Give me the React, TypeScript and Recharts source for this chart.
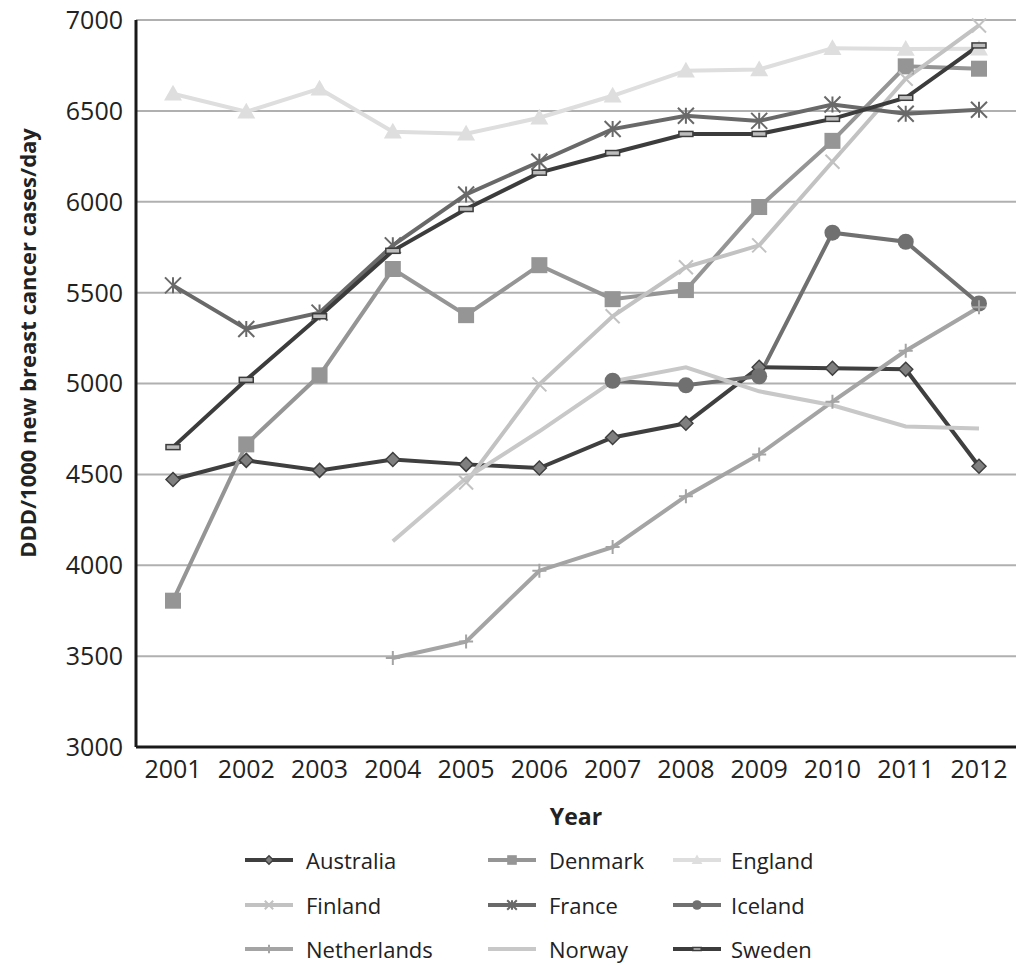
import React from "react";
import { LineChart, Line, XAxis, YAxis, CartesianGrid } from "recharts";

if (typeof document !== "undefined") {
  document.body.style.margin = "0";
  document.body.style.overflow = "hidden";
}

const years = ["2001", "2002", "2003", "2004", "2005", "2006", "2007", "2008", "2009", "2010", "2011", "2012"];
const yTicks = [3000, 3500, 4000, 4500, 5000, 5500, 6000, 6500, 7000];

const australia = [4472, 4577, 4522, 4582, 4555, 4535, 4703, 4781, 5089, 5084, 5078, 4545];
const denmark = [3805, 4665, 5045, 5630, 5376, 5651, 5464, 5514, 5971, 6335, 6745, 6732];
const england = [6594, 6495, 6622, 6385, 6374, 6462, 6583, 6721, 6728, 6845, 6840, 6842];
const finland = [null, null, null, null, 4455, 4995, 5370, 5640, 5760, 6220, 6677, 6970];
const france = [5540, 5300, 5390, 5760, 6040, 6220, 6400, 6473, 6445, 6535, 6484, 6506];
const iceland = [null, null, null, null, null, null, 5015, 4990, 5040, 5830, 5780, 5440];
const netherlands = [null, null, null, 3490, 3580, 3970, 4100, 4380, 4610, 4900, 5180, 5420];
const norway = [null, null, null, 4132, 4480, 4737, 5012, 5089, 4957, 4880, 4764, 4753];
const sweden = [4650, 5020, 5370, 5730, 5960, 6160, 6268, 6373, 6373, 6456, 6572, 6860];

const data = years.map((y, i) => ({
  year: y,
  Australia: australia[i],
  Denmark: denmark[i],
  England: england[i],
  Finland: finland[i],
  France: france[i],
  Iceland: iceland[i],
  Netherlands: netherlands[i],
  Norway: norway[i],
  Sweden: sweden[i],
}));

type Shape = "diamond" | "square" | "triangle" | "x" | "asterisk" | "circle" | "plus" | "dash" | "none";

const SERIES: { key: string; color: string; shape: Shape; fill?: string }[] = [
  { key: "Australia", color: "#3f3f3f", shape: "diamond", fill: "#7f7f7f" },
  { key: "Denmark", color: "#959595", shape: "square" },
  { key: "England", color: "#dedede", shape: "triangle" },
  { key: "Finland", color: "#c2c2c2", shape: "x" },
  { key: "France", color: "#696969", shape: "asterisk" },
  { key: "Iceland", color: "#707070", shape: "circle" },
  { key: "Netherlands", color: "#a4a4a4", shape: "plus" },
  { key: "Norway", color: "#c8c8c8", shape: "none" },
  { key: "Sweden", color: "#3c3c3c", shape: "dash", fill: "#bdbdbd" },
];

const FONT = "'Open Sans', sans-serif";

function Marker({ cx, cy, shape, color, fill, s = 1 }: any) {
  if (cx == null || cy == null) return null;
  switch (shape) {
    case "diamond": {
      const r = 7 * s;
      return <path d={`M${cx},${cy - r}L${cx + r},${cy}L${cx},${cy + r}L${cx - r},${cy}Z`} fill={fill} stroke={color} strokeWidth={1.5} />;
    }
    case "square": {
      const r = 8 * s;
      return <rect x={cx - r} y={cy - r} width={2 * r} height={2 * r} fill={color} />;
    }
    case "triangle": {
      const r = 9 * s;
      return <path d={`M${cx},${cy - r}L${cx + r},${cy + r * 0.75}L${cx - r},${cy + r * 0.75}Z`} fill={color} />;
    }
    case "x": {
      const r = 7 * s;
      return <path d={`M${cx - r},${cy - r}L${cx + r},${cy + r}M${cx + r},${cy - r}L${cx - r},${cy + r}`} stroke={color} strokeWidth={2} />;
    }
    case "asterisk": {
      const r = 8 * s;
      return (
        <path
          d={`M${cx - r},${cy - r}L${cx + r},${cy + r}M${cx + r},${cy - r}L${cx - r},${cy + r}M${cx},${cy - r}L${cx},${cy + r}`}
          stroke={color}
          strokeWidth={2}
        />
      );
    }
    case "circle":
      return <circle cx={cx} cy={cy} r={8 * s} fill={color} />;
    case "plus": {
      const r = 7 * s;
      return <path d={`M${cx - r},${cy}L${cx + r},${cy}M${cx},${cy - r}L${cx},${cy + r}`} stroke={color} strokeWidth={2} />;
    }
    case "dash": {
      return <rect x={cx - 7 * s} y={cy - 2.5 * s} width={14 * s} height={5 * s} fill={fill} stroke={color} strokeWidth={1.5} />;
    }
    default:
      return null;
  }
}

const legendCols = [245, 488, 673];
const legendRows = [860, 905, 949];

function LegendBox() {
  return (
    <>
      {SERIES.map((s, i) => {
        const left = legendCols[i % 3];
        const top = legendRows[Math.floor(i / 3)];
        return (
          <div
            key={s.key}
            style={{ position: "absolute", left, top: top - 12, height: 24, lineHeight: "24px", display: "flex", alignItems: "center", fontFamily: FONT, fontSize: 22, color: "#222" }}
          >
            <svg width={48} height={20} style={{ marginRight: i % 3 === 2 ? 10 : 13 }}>
              <line x1={0} y1={10} x2={48} y2={10} stroke={s.color} strokeWidth={4} />
              <Marker cx={24} cy={10} shape={s.shape} color={s.color} fill={s.fill} s={0.6} />
            </svg>
            <span>{s.key}</span>
          </div>
        );
      })}
    </>
  );
}

const yLabel = () => (
  <text
    x={27}
    y={343}
    transform="rotate(-90 27 343)"
    textAnchor="middle"
    dominantBaseline="central"
    style={{ fontFamily: FONT, fontSize: 22, fontWeight: 700, fill: "#222" }}
  >
    DDD/1000 new breast cancer cases/day
  </text>
);

export default function App() {
  return (
    <div style={{ position: "relative", width: 1019, height: 966, background: "#fff", overflow: "hidden" }}>
      <LineChart width={1019} height={966} data={data} margin={{ top: 20, right: 3, bottom: 129, left: 0 }}>
        <CartesianGrid vertical={false} stroke="#b0b0b0" strokeWidth={2} />
        <XAxis
          dataKey="year"
          padding={{ left: 37, right: 37 }}
          stroke="#1a1a1a"
          strokeWidth={3}
          tickLine={false}
          tickSize={0}
          tickMargin={13}
          height={90}
          tick={{ fill: "#222", fontSize: 25, fontFamily: FONT }}
          label={{ value: "Year", position: "insideBottom", offset: 12, style: { fontFamily: FONT, fontSize: 23, fontWeight: 700, fill: "#222" } }}
        />
        <YAxis
          domain={[3000, 7000]}
          ticks={yTicks}
          width={136}
          stroke="#1a1a1a"
          strokeWidth={3}
          tickLine={false}
          tickSize={0}
          tickMargin={13}
          tick={{ fill: "#222", fontSize: 25, fontFamily: FONT }}
          label={{ content: yLabel }}
        />
        {SERIES.map((s) => (
          <Line
            key={s.key}
            dataKey={s.key}
            stroke={s.color}
            strokeWidth={4}
            isAnimationActive={false}
            activeDot={false}
            dot={(p: any) => <Marker key={`${s.key}-${p.index}`} cx={p.cx} cy={p.cy} shape={s.shape} color={s.color} fill={s.fill} />}
          />
        ))}
      </LineChart>
      <LegendBox />
    </div>
  );
}
